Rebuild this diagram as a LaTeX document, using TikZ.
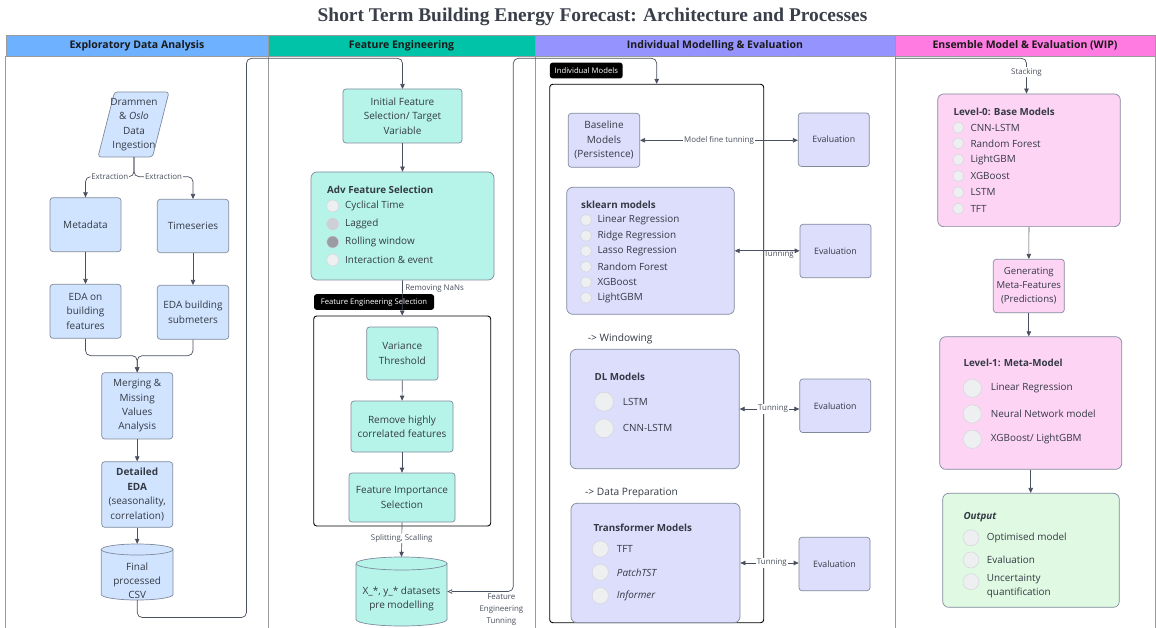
\documentclass[tikz,border=0pt]{standalone}
\usepackage{fontspec}
\setmainfont{Open Sans}
\newfontfamily\ttlfont{Liberation Serif}
\usetikzlibrary{arrows.meta,calc}
\definecolor{txt}{HTML}{343A45}
\definecolor{ttl}{HTML}{3A3F4A}
\definecolor{lbltxt}{HTML}{4A505C}
\definecolor{ln}{HTML}{4B5060}
\definecolor{bdr}{HTML}{808A9C}
\definecolor{lane}{HTML}{9A9A9A}
\definecolor{hdrtxt}{HTML}{1A1A1A}
\definecolor{hEDA}{HTML}{6DB1FF}
\definecolor{hFE}{HTML}{00C3A8}
\definecolor{hIME}{HTML}{9594FF}
\definecolor{hEME}{HTML}{FF7BE2}
\definecolor{fBlue}{HTML}{D1E4FF}
\definecolor{fTeal}{HTML}{B6F4EA}
\definecolor{fPurp}{HTML}{DDDDFC}
\definecolor{fPink}{HTML}{FDD4F4}
\definecolor{fGreen}{HTML}{E0F9E2}
\definecolor{cLight}{HTML}{EEEFF1}
\definecolor{cMid}{HTML}{CDD1D7}
\definecolor{cDark}{HTML}{9A9CA4}
\definecolor{dotbdr}{HTML}{D3D6DB}
\begin{document}
\begin{tikzpicture}[x=1pt,y=-1pt,
  box/.style={draw=bdr, line width=0.7pt, rounded corners=3pt, align=center, text=txt, inner sep=1pt, font=\fontsize{10}{14.4}\selectfont},
  bbox/.style={box, fill=fBlue},
  tbox/.style={box, fill=fTeal},
  pbox/.style={box, fill=fPurp},
  kbox/.style={box, fill=fPink},
  gbox/.style={box, fill=fGreen},
  lbox/.style={rounded corners=6pt},
  evalbox/.style={pbox, font=\fontsize{8.8}{9.5}\selectfont, minimum width=71, minimum height=53.5},
  hdr/.style={draw=lane, line width=0.6pt, inner sep=0, font=\bfseries\fontsize{10.5}{12}\selectfont, text=hdrtxt, minimum height=21},
  conn/.style={draw=ln, line width=0.7pt, rounded corners=5pt, -{Triangle[length=5pt,width=4.5pt]}},
  biconn/.style={draw=ln, line width=0.7pt, {Triangle[length=5pt,width=4.5pt]}-{Triangle[length=5pt,width=4.5pt]}},
  lbl/.style={font=\fontsize{7.9}{9}\selectfont, text=lbltxt, fill=white, inner sep=1pt},
  tag/.style={fill=black, text=white, rounded corners=2.5pt, font=\fontsize{7.7}{8.5}\selectfont, inner sep=0, minimum height=15.6},
  grp/.style={draw=black, line width=0.9pt, rounded corners=3pt},
  dot/.style={circle, draw=dotbdr, line width=0.5pt, inner sep=0, fill=cLight},
  item/.style={anchor=west, inner sep=0, text=txt, align=left, font=\fontsize{9.9}{14}\selectfont},
  ltitle/.style={item, font=\bfseries\fontsize{9.8}{10.5}\selectfont},
  laneline/.style={draw=lane, line width=0.6pt},
  cyl/.style={draw=bdr, line width=0.7pt}
]
\useasboundingbox (0,0) rectangle (1156,628);
\fill[white] (0,0) rectangle (1156,628);

% title
\node[font=\ttlfont\bfseries\fontsize{19.4}{22}\selectfont, text=ttl] (title) at (592.5,17) {Short Term Building Energy Forecast: Architecture and Processes};

% lane headers
\node[hdr, fill=hEDA, minimum width=262] (h1) at (137,45.5) {Exploratory Data Analysis};
\node[hdr, fill=hFE, minimum width=267] (h2) at (401.5,45.5) {Feature Engineering};
\node[hdr, fill=hIME, minimum width=360] (h3) at (715,45.5) {Individual Modelling \& Evaluation};
\node[hdr, fill=hEME, minimum width=260] (h4) at (1025,45.5) {Ensemble Model \& Evaluation (WIP)};
\draw[laneline] (h1.south west) -- ++(0,575);
\draw[laneline] (h1.south east) -- ++(0,575);
\draw[laneline] (h2.south east) -- ++(0,575);
\draw[laneline] (h3.south east) -- ++(0,575);
\draw[laneline] (h4.south east) -- ++(0,575);

% ---------- EDA ----------
\draw[fill=fBlue, draw=bdr, line width=0.7pt, rounded corners=3pt] (98,157) -- (114.5,92) -- (169,92) -- (152.5,157) -- cycle;
\node[align=center, text=txt, font=\fontsize{10}{14.4}\selectfont, minimum height=65, inner sep=0] (ing) at (134,124.5) {Drammen\\\& \textit{Oslo}\\Data\\Ingestion};
\node[bbox, minimum width=71, minimum height=54] (meta) at (85.5,224.7) {Metadata};
\node[bbox, minimum width=71.4, minimum height=53.4] (ts) at (193,226) {Timeseries};
\node[bbox, minimum width=71, minimum height=54] (efeat) at (85.5,311.3) {EDA on\\building\\features};
\node[bbox, minimum width=71.4, minimum height=54] (esub) at (193,312.3) {EDA building\\submeters};
\node[bbox, minimum width=71, minimum height=66.3] (merge) at (137.2,405.8) {Merging \&\\Missing\\Values\\Analysis};
\node[bbox, minimum width=71, minimum height=65.6] (deda) at (137.2,494.5) {\textbf{Detailed}\\\textbf{EDA}\\(seasonality,\\correlation)};
% cylinder CSV
\draw[cyl, fill=fBlue] (101.3,549.5) -- (101.3,594.5) arc[start angle=180, end angle=360, x radius=35.85pt, y radius=5.5pt] -- (173,549.5) arc[start angle=0, end angle=180, x radius=35.85pt, y radius=5.5pt] -- cycle;
\draw[cyl] (101.3,549.5) arc[start angle=180, end angle=360, x radius=35.85pt, y radius=5.5pt];
\node[minimum width=71.7, minimum height=56, inner sep=0] (csv) at (137.2,572) {};
\node[align=center, text=txt, font=\fontsize{10}{14.2}\selectfont, inner sep=0] (csvt) at (137.2,580.5) {Final\\processed\\CSV};

\draw[conn] (ing.south) -- ++(0,19.5) -| node[lbl, pos=0.25] {Extraction} (meta.north);
\draw[conn] (ing.south) -- ++(0,19.5) -| node[lbl, pos=0.25] {Extraction} (ts.north);
\draw[conn] (meta) -- (efeat);
\draw[conn] (ts) -- (esub);
\draw[conn] (efeat.south) -- ++(0,17) -| (merge.north);
\draw[conn] (esub.south) -- ++(0,16) -| (merge.north);
\draw[conn] (merge) -- (deda);
\draw[conn] (deda) -- (csv.north);
\coordinate (loopA) at (246.5,58.3);
\draw[conn] (csv.south) -- ++(0,17.3) -| (loopA) -| (402.5,89);

% ---------- Feature Engineering ----------
\node[tbox, minimum width=119, minimum height=54] (init) at (402.5,116) {Initial Feature\\Selection/ Target\\Variable};
\node[tbox, lbox, minimum width=183, minimum height=108] (adv) at (402.5,226) {};
\node[ltitle] (adv-t) at (327,190) {Adv Feature Selection};
\foreach \y/\t/\c [count=\i] in {206/Cyclical Time/cLight, 224/Lagged/cMid, 242/Rolling window/cDark, 260/Interaction \& event/cLight}{
  \node[dot, minimum size=12, fill=\c] (adv-c\i) at (332.7,\y) {};
  \node[item] (adv-i\i) at (345,\y) {\t};
}
\node[tag, minimum width=120] (fes-tag) at (374,302) {Feature Engineering Selection};
\node[grp, minimum width=177, minimum height=210] (fes) at (402.2,421) {};
\node[tbox, minimum width=71.3, minimum height=53] (var) at (402.3,353.5) {Variance\\Threshold};
\node[tbox, minimum width=102, minimum height=51] (corr) at (402,426.5) {Remove highly\\correlated features};
\node[tbox, minimum width=106, minimum height=49] (fimp) at (402,497.5) {Feature Importance\\Selection};
% cylinder X
\draw[cyl, fill=fTeal] (356,563.5) -- (356,619.5) arc[start angle=180, end angle=360, x radius=45.5pt, y radius=6.5pt] -- (447,563.5) arc[start angle=0, end angle=180, x radius=45.5pt, y radius=6.5pt] -- cycle;
\draw[cyl] (356,563.5) arc[start angle=180, end angle=360, x radius=45.5pt, y radius=6.5pt];
\node[minimum width=91, minimum height=69, inner sep=0] (xds) at (401.5,591.5) {};
\node[align=center, text=txt, font=\fontsize{10}{14.2}\selectfont, inner sep=0] (xdst) at (401.5,599) {X\_*, y\_* datasets\\pre modelling};

\draw[conn] (init) -- (adv);
\draw[conn] (adv.south) -- node[lbl, fill=none, right, pos=0.24, xshift=1.5] {Removing NaNs} (fes.north);
\draw[conn] (var) -- (corr);
\draw[conn] (corr) -- (fimp);
\draw[conn] (fimp.south) -- node[lbl, pos=0.46] {Splitting, Scalling} (xds.north);

% ---------- Individual Modelling ----------
\node[tag, minimum width=72.7] (im-tag) at (586.3,70.5) {Individual Models};
\node[grp, minimum width=214, minimum height=538.4] (grp) at (656.7,353.5) {};
\node[pbox, minimum width=71.4, minimum height=54] (base) at (604,140.3) {Baseline\\Models\\(Persistence)};
\node[evalbox] (ev1) at (833.8,139.7) {Evaluation};
\node[pbox, lbox, minimum width=167.6, minimum height=127] (skl) at (650.5,250.8) {};
\node[ltitle] (skl-t) at (581,205) {sklearn models};
\foreach \y/\t [count=\i] in {220/Linear Regression, 235.7/Ridge Regression, 251/Lasso Regression, 266.7/Random Forest, 282.3/XGBoost, 297.7/LightGBM}{
  \node[dot, minimum size=11] (skl-c\i) at (586,\y) {};
  \node[item] (skl-i\i) at (597.3,\y) {\t};
}
\node[evalbox] (ev2) at (835.5,251) {Evaluation};
\node[item, font=\fontsize{10.2}{11}\selectfont] (win) at (587.7,339) {-> Windowing};
\node[pbox, lbox, minimum width=169, minimum height=119.4] (dl) at (654.8,409) {};
\node[ltitle] (dl-t) at (594.3,377.3) {DL Models};
\foreach \y/\t [count=\i] in {401.7/LSTM, 428.3/CNN-LSTM}{
  \node[dot, minimum size=19] (dl-c\i) at (604,\y) {};
  \node[item] (dl-i\i) at (622.7,\y) {\t};
}
\node[evalbox] (ev3) at (835.2,405.8) {Evaluation};
\node[item, font=\fontsize{10.2}{11}\selectfont] (prep) at (585,493) {-> Data Preparation};
\node[pbox, lbox, minimum width=169, minimum height=119.4] (trf) at (655.5,563) {};
\node[ltitle] (trf-t) at (593.3,527.7) {Transformer Models};
\foreach \y/\t [count=\i] in {549/TFT, 572.3/\textit{PatchTST}, 595.7/\textit{Informer}}{
  \node[dot, minimum size=16.3] (trf-c\i) at (600.3,\y) {};
  \node[item] (trf-i\i) at (616.7,\y) {\t};
}
\node[evalbox] (ev4) at (834.5,564) {Evaluation};

\draw[biconn] (base.east) -- node[lbl] {Model fine tunning} (base.east -| ev1.west);
\draw[biconn] (skl.east) -- node[lbl, fill=none, below, pos=0.68, yshift=1] {Tunning} (skl.east -| ev2.west);
\draw[biconn] (dl.east) -- node[lbl, pos=0.56] {Tunning} (dl.east -| ev3.west);
\draw[biconn] (trf.east) -- node[lbl, pos=0.54] {Tunning} (trf.east -| ev4.west);

\coordinate (loopB) at (513.3,58.3);
\draw[conn, {Triangle[open, length=5pt, width=4.5pt, fill=white]}-{Triangle[length=5pt,width=4.5pt]}] (xds.east) -| node[lbl, fill=none, align=center, pos=0.41, anchor=north, yshift=-1, font=\fontsize{7.9}{12}\selectfont] {Feature\\Engineering\\Tunning} (loopB) -| (grp.north);

% ---------- Ensemble ----------
\node[kbox, lbox, minimum width=182.6, minimum height=132.7] (l0) at (1029,160.3) {};
\node[ltitle] (l0-t) at (953.3,111.7) {Level-0: Base Models};
\foreach \y/\t [count=\i] in {127.7/CNN-LSTM, 143.3/Random Forest, 159.7/LightGBM, 176/XGBoost, 192.3/LSTM, 208.7/TFT}{
  \node[dot, minimum size=11] (l0-c\i) at (958.3,\y) {};
  \node[item] (l0-i\i) at (970.3,\y) {\t};
}
\node[kbox, minimum width=71, minimum height=53.4, font=\fontsize{9.6}{14.2}\selectfont] (gen) at (1028.8,286) {Generating\\Meta-Features\\(Predictions)};
\node[kbox, lbox, minimum width=182, minimum height=132.6] (l1) at (1030.7,403) {};
\node[ltitle] (l1-t) at (963.3,363.3) {Level-1: Meta-Model};
\node[dot, minimum size=18.3] (l1-c1) at (972.3,388.3) {};
\node[item] (l1-i1) at (990.7,388.3) {Linear Regression};
\node[dot, minimum size=18.3] (l1-c2) at (972.3,414) {};
\node[item] (l1-i2) at (990.7,414) {Neural Network model};
\node[dot, minimum size=18.3] (l1-c3) at (972.3,439.3) {};
\node[item] (l1-i3) at (990.7,439.3) {XGBoost/ LightGBM};
\node[gbox, lbox, minimum width=176.6, minimum height=114] (out) at (1031,550.3) {};
\node[ltitle, font=\bfseries\itshape\fontsize{9.8}{10.5}\selectfont] (out-t) at (963.3,516.7) {Output};
\node[dot, minimum size=16] (out-c1) at (971,537.7) {};
\node[item] (out-i1) at (986.7,537.7) {Optimised model};
\node[dot, minimum size=16] (out-c2) at (971,560) {};
\node[item] (out-i2) at (986.7,560) {Evaluation};
\node[dot, minimum size=16] (out-c3) at (971,581.7) {};
\node[item] (out-i3) at (986.7,586.5) {Uncertainty\\quantification};

\coordinate (stkA) at (895,58.3);
\coordinate (stkB) at (1026.5,58.3);
\draw[conn] (stkA) -- (stkB) -- node[lbl, pos=0.39] {Stacking} (stkB |- l0.north);
\draw[conn] (l0) -- (gen);
\draw[conn] (gen.south) -- (gen.south |- l1.north);
\draw[conn] (l1.south) -- (l1.south |- out.north);
\end{tikzpicture}
\end{document}
